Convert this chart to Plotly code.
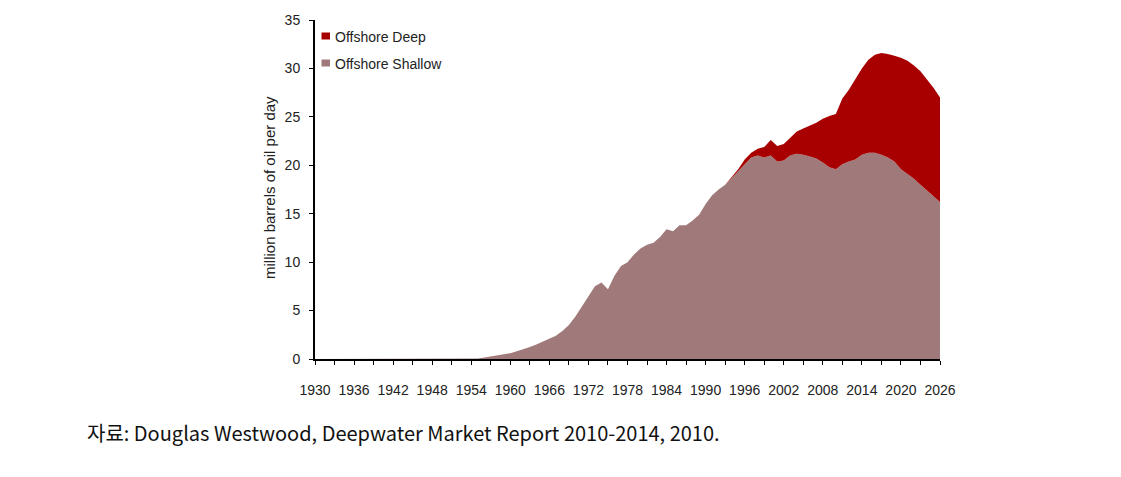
import plotly.graph_objects as go

years = list(range(1930, 2027))

# Offshore Shallow production (million barrels of oil per day), 1930-2026
shallow_1955_on = [
    0.05, 0.15, 0.25, 0.35, 0.45, 0.6, 0.8, 1.0, 1.25, 1.5,      # 1955-1964
    1.8, 2.1, 2.4, 2.9, 3.5, 4.4, 5.4, 6.5, 7.5, 7.9,            # 1965-1974
    7.2, 8.6, 9.6, 10.0, 10.8, 11.4, 11.8, 12.0, 12.6, 13.4,     # 1975-1984
    13.2, 13.8, 13.8, 14.3, 14.9, 16.0, 16.9, 17.5, 18.0, 18.7,  # 1985-1994
    19.4, 20.2, 20.8, 21.0, 20.8, 21.0, 20.4, 20.5, 21.0, 21.2,  # 1995-2004
    21.1, 20.9, 20.7, 20.3, 19.8, 19.6, 20.1, 20.4, 20.6, 21.1,  # 2005-2014
    21.3, 21.3, 21.1, 20.8, 20.4, 19.6, 19.1, 18.6, 18.0, 17.4,  # 2015-2024
    16.8, 16.2,                                                   # 2025-2026
]
shallow = [0.0] * (1955 - 1930) + shallow_1955_on

# Offshore Deep production, 1930-2026
deep_1994_on = [
    0.1, 0.2, 0.4, 0.5, 0.7, 1.1, 1.6, 1.6, 1.7, 1.9,            # 1994-2003
    2.3, 2.7, 3.2, 3.7, 4.5, 5.3, 5.7, 6.8, 7.4, 8.3,            # 2004-2013
    8.9, 9.6, 10.1, 10.5, 10.7, 10.9, 11.5, 11.7, 11.7, 11.7,    # 2014-2023
    11.5, 11.2, 10.8,                                             # 2024-2026
]
deep = [0.0] * (1994 - 1930) + deep_1994_on

series_names = ["Offshore Deep", "Offshore Shallow"]
x_tick_labels = list(range(1930, 2027, 6))
y_ticks = [0, 5, 10, 15, 20, 25, 30, 35]

DEEP_COLOR = "#A80000"
SHALLOW_COLOR = "#A07A7A"
TEXT_COLOR = "#222222"

# plot area in page pixels: x 315..940, y 20..359 (page body has 8px margin)
PX0, PX1, PY0, PY1 = 315, 940, 20, 359


def px(X):
    return (X - PX0) / (PX1 - PX0)


def py(Y):
    return (PY1 - Y) / (PY1 - PY0)


fig = go.Figure()
fig.add_trace(go.Scatter(
    x=years, y=shallow, stackgroup="one", mode="lines",
    line=dict(width=0, color=SHALLOW_COLOR), fillcolor=SHALLOW_COLOR,
    showlegend=False, hoverinfo="skip", name=series_names[1],
))
fig.add_trace(go.Scatter(
    x=years, y=deep, stackgroup="one", mode="lines",
    line=dict(width=0, color=DEEP_COLOR), fillcolor=DEEP_COLOR,
    showlegend=False, hoverinfo="skip", name=series_names[0],
))

fig.update_layout(
    width=1121, height=477,
    margin=dict(l=PX0 - 8, r=1121 - (PX1 - 8), t=PY0 - 8, b=477 - (PY1 - 8), autoexpand=False),
    paper_bgcolor="white", plot_bgcolor="white",
    font=dict(family="Liberation Sans, Arial, sans-serif", size=12, color=TEXT_COLOR),
    showlegend=False,
    xaxis=dict(
        range=[1930, 2026], tickvals=x_tick_labels, ticktext=[str(v) for v in x_tick_labels],
        showgrid=False, zeroline=False, showline=True, linecolor="black", linewidth=2,
        ticks="outside", ticklen=4, tickcolor="black", tickwidth=1,
        minor=dict(dtick=3, tick0=1930, ticks="outside", ticklen=4, tickcolor="black",
                   tickwidth=1, showgrid=False),
        tickfont=dict(size=14, color=TEXT_COLOR), ticklabelstandoff=13,
        automargin=False, fixedrange=True,
    ),
    yaxis=dict(
        range=[0, 35], tickvals=y_ticks,
        showgrid=False, zeroline=False, showline=True, linecolor="black", linewidth=2,
        ticks="outside", ticklen=4, tickcolor="black", tickwidth=1,
        tickfont=dict(size=14, color=TEXT_COLOR), ticklabelstandoff=6,
        automargin=False, fixedrange=True,
    ),
)

# y-axis title
fig.add_annotation(
    text="million barrels of oil per day", textangle=-90,
    xref="paper", yref="paper", x=px(269), y=py(188),
    xanchor="center", yanchor="middle", showarrow=False,
    font=dict(size=15, color=TEXT_COLOR),
)

# legend (square swatches + labels)
legend_rows = [(series_names[0], DEEP_COLOR, 36), (series_names[1], SHALLOW_COLOR, 63)]
for name, color, yc in legend_rows:
    fig.add_shape(
        type="rect", xref="paper", yref="paper",
        x0=px(321.5), x1=px(330), y0=py(yc + 3.5), y1=py(yc - 3.5),
        fillcolor=color, line=dict(width=0),
    )
    fig.add_annotation(
        text=name, xref="paper", yref="paper", x=px(332.5), y=py(yc + 1),
        xanchor="left", yanchor="middle", showarrow=False,
        font=dict(size=14, color=TEXT_COLOR),
    )

# source caption
fig.add_annotation(
    text="자료: Douglas Westwood, Deepwater Market Report 2010-2014, 2010.",
    xref="paper", yref="paper", x=px(85), y=py(432),
    xanchor="left", yanchor="middle", showarrow=False,
    font=dict(family="Noto Sans CJK KR", size=20, color="#111111"),
)

fig.write_html("out.html")
